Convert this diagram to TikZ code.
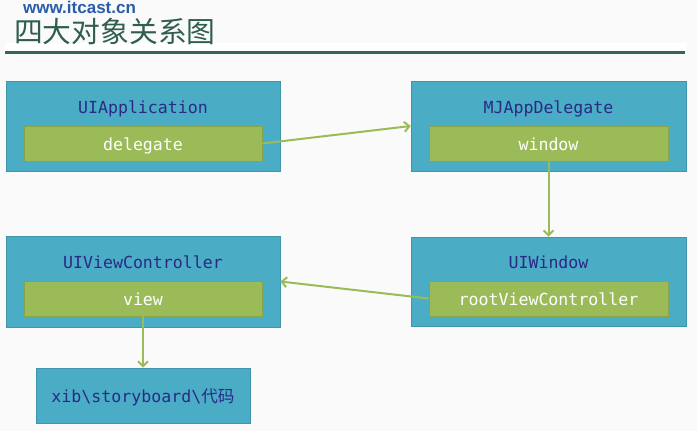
\documentclass[tikz,border=0pt]{standalone}
\usepackage{fontspec}
\setmainfont{Liberation Sans}
\newfontfamily\monofam{DejaVu Sans Mono}
\newfontfamily\cjkfam{Noto Sans CJK SC}
\usetikzlibrary{arrows.meta}
\definecolor{bgc}{HTML}{FAFAFA}
\definecolor{boxblue}{HTML}{4BACC6}
\definecolor{boxedge}{HTML}{3E95AC}
\definecolor{boxgreen}{HTML}{9BBB59}
\definecolor{greenedge}{HTML}{86A54A}
\definecolor{titleink}{HTML}{2A2A86}
\definecolor{headink}{HTML}{2F5E4E}
\definecolor{urlink}{HTML}{2B5CA8}
\definecolor{ruleink}{HTML}{386656}
\tikzset{
  outerbox/.style={draw=boxedge, line width=0.6pt, fill=boxblue, minimum width=274pt, minimum height=90pt, inner sep=0pt},
  innerbox/.style={draw=greenedge, line width=0.6pt, fill=boxgreen, minimum width=238pt, minimum height=35pt, inner sep=0pt,
     text=white, font=\monofam\fontsize{16.6}{18}\selectfont, text height=13.6pt, text depth=0pt},
  boxtitle/.style={text=titleink, font=\monofam\fontsize{16.6}{18}\selectfont, inner sep=0pt, text height=13.6pt, text depth=0pt},
  link/.style={draw=boxgreen, line width=2pt, -{Straight Barb[length=5pt,width=10pt,line width=2pt]}},
}
\begin{document}
\begin{tikzpicture}[x=1pt,y=-1pt]
\fill[bgc] (0,0) rectangle (697,431);
\useasboundingbox (0,0) rectangle (697,431);
\fill[white] (5,43) rectangle (686,52);
% header
\node[anchor=base west, inner sep=0pt, text=urlink, font=\bfseries\fontsize{17}{18}\selectfont] (url) at (23,13) {www.itcast.cn};
\node[anchor=west, inner sep=0pt, text=headink, font=\cjkfam\fontsize{28.8}{30}\selectfont] (head) at (14,31) {四大对象关系图};
\draw[ruleink, line width=3pt] (5,52.5) -- (685,52.5);
% boxes
\node[outerbox] (app) at (143,126) {};
\node[boxtitle] (appt) at (143,107) {UIApplication};
\node[innerbox] (delegate) at (143,143.5) {delegate};

\node[outerbox, minimum width=275pt] (del) at (548.5,126) {};
\node[boxtitle] (delt) at (548.5,107) {MJAppDelegate};
\node[innerbox, minimum width=239pt] (window) at (548.5,143.5) {window};

\node[outerbox, minimum width=275pt, minimum height=89pt] (win) at (548.5,281.5) {};
\node[boxtitle] (wint) at (548.5,262) {UIWindow};
\node[innerbox, minimum width=239pt] (rootvc) at (548.5,298.5) {rootViewController};

\node[outerbox, minimum height=91pt] (vc) at (143,281.5) {};
\node[boxtitle] (vct) at (143,262) {UIViewController};
\node[innerbox] (view) at (143,298.5) {view};

\node[outerbox, minimum width=214pt, minimum height=55pt] (xib) at (143,395.5) {};
\node[boxtitle] (xibt) at (143,396) {xib\textbackslash storyboard\textbackslash{\cjkfam 代码}};
% connectors
\draw[link] (delegate.east) -- (del.west);
\draw[link] (window.south) -- (win.north);
\draw[link] (rootvc.west) -- (vc.east);
\draw[link] (view.south) -- (xib.north);
\end{tikzpicture}
\end{document}
